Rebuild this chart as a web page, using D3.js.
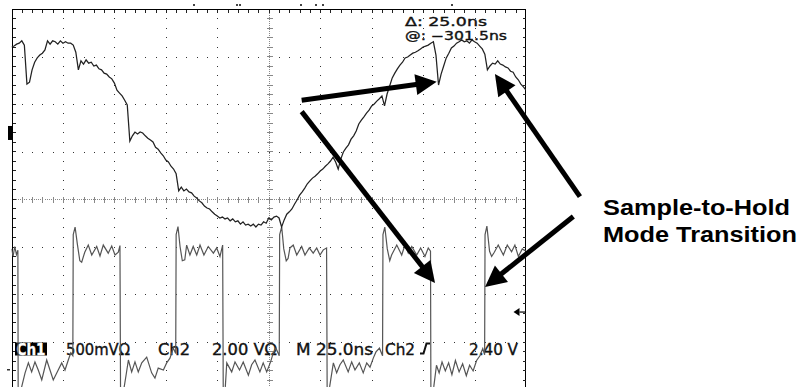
<!doctype html>
<html lang="en">
  <head>
    <meta charset="UTF-8" />
    <title>Sample-to-Hold Mode Transition</title>
    <script src="https://unpkg.com/d3@7.9.0/dist/d3.min.js"></script>
    <style>
      body {
        margin: 0;
        background: #fff;
      }
      svg {
        display: block;
      }
      .readout {
        font-family: 'DejaVu Sans', sans-serif;
        font-size: 15px;
        fill: #111;
        stroke: #111;
        stroke-width: 0.35px;
      }
      .cursor {
        font-family: 'DejaVu Sans', sans-serif;
        font-size: 11.5px;
        fill: #111;
        stroke: #111;
        stroke-width: 0.35px;
      }
      .callout {
        font-family: 'Liberation Sans', Arial, sans-serif;
        font-weight: bold;
        font-size: 22px;
        fill: #000;
      }
    </style>
  </head>
  <body>
    <div id="graph"></div>

    <script>
      // screen: 10 divisions x 25 ns, 8 divisions vertically (values in divisions)
      const SAMPLE_NS = 1.25;

      // Ch1 (held signal), one value every 1.25 ns
      const ch1 = [
        3.20, 3.22, 3.26, 3.28, 3.33, 3.24, 2.42, 2.46, 2.72, 2.88,
        2.97, 3.03, 3.07, 3.14, 3.33, 3.26, 3.33, 3.31, 3.26, 3.33,
        3.28, 3.31, 3.28, 3.28, 3.24, 3.09, 2.72, 2.91, 2.84, 2.93,
        2.86, 2.88, 2.80, 2.82, 2.74, 2.72, 2.65, 2.63, 2.57, 2.53,
        2.44, 2.29, 2.23, 2.17, 2.08, 1.98, 1.22, 1.33, 1.41, 1.37,
        1.41, 1.39, 1.33, 1.28, 1.24, 1.20, 1.09, 1.05, 0.97, 0.91,
        0.82, 0.78, 0.69, 0.63, 0.53, 0.17, 0.25, 0.17, 0.21, 0.15,
        0.13, 0.06, 0.02, -0.04, -0.08, -0.15, -0.19, -0.21, -0.27, -0.32,
        -0.36, -0.40, -0.38, -0.42, -0.40, -0.46, -0.42, -0.48, -0.46, -0.53,
        -0.48, -0.55, -0.53, -0.57, -0.53, -0.59, -0.53, -0.55, -0.48, -0.51,
        -0.40, -0.44, -0.38, -0.36, -0.40, -0.59, -0.44, -0.32, -0.27, -0.21,
        -0.11, -0.02, 0.08, 0.15, 0.23, 0.32, 0.38, 0.44, 0.48, 0.53,
        0.59, 0.63, 0.69, 0.74, 0.80, 0.88, 0.78, 0.63, 0.84, 0.99,
        1.07, 1.14, 1.26, 1.33, 1.43, 1.58, 1.66, 1.73, 1.81, 1.87,
        1.96, 2.00, 2.06, 2.11, 2.17, 1.96, 2.21, 2.38, 2.55, 2.65,
        2.74, 2.82, 2.88, 2.97, 2.99, 3.03, 3.07, 3.09, 3.12, 3.16,
        3.20, 3.22, 3.24, 3.28, 3.31, 3.03, 2.40, 2.63, 2.80, 2.97,
        3.07, 3.18, 3.22, 3.28, 3.31, 3.35, 3.31, 3.33, 3.28, 3.35,
        3.31, 3.28, 3.22, 3.16, 3.05, 2.72, 2.80, 2.86, 2.84, 2.91,
        2.84, 2.82, 2.78, 2.76, 2.69, 2.67, 2.57, 2.51, 2.42, 2.36,
        2.29,
      ];

      // Ch2 (clock), [ns, divisions]
      const ch2 = [
        [0.0, -1.05], [0.8, -1.2], [1.6, -1.0], [2.4, -1.17], [3.1, -1.08],
        [3.25, -4.2], [4.8, -3.98], [6.6, -3.66], [8.2, -3.45], [9.8, -3.64],
        [11.4, -3.43], [13.0, -3.6], [14.7, -3.81], [17.1, -3.39], [18.7, -3.6],
        [20.3, -3.81], [22.7, -3.6], [24.4, -3.45], [26.0, -3.6], [27.6, -3.39],
        [28.8, -3.24], [29.8, -3.3],
        [30.0, -0.75], [30.9, -0.59], [32.0, -0.95], [33.2, -1.3], [34.1, -1.33],
        [35.6, -1.12], [37.3, -0.97], [39.0, -1.18], [41.4, -1.0], [43.0, -1.2],
        [44.6, -0.97], [47.0, -1.14], [48.7, -0.99], [50.3, -1.18], [51.9, -1.12],
        [52.7, -0.98],
        [53.0, -4.2], [54.6, -4.0], [55.7, -3.7], [56.8, -3.39], [58.4, -3.64],
        [60.0, -3.43], [61.6, -3.64], [63.3, -3.45], [65.7, -3.33], [68.1, -3.66],
        [69.7, -3.77], [71.3, -3.56], [73.8, -3.6], [75.4, -3.45], [77.0, -3.35],
        [78.6, -3.14], [79.8, -3.25],
        [80.0, -0.75], [80.9, -0.58], [81.9, -1.0], [83.0, -1.3], [84.2, -1.28],
        [85.1, -0.97], [86.7, -1.18], [88.3, -1.0], [90.0, -1.18], [91.6, -0.97],
        [93.5, -1.18], [95.6, -1.0], [98.1, -1.14], [99.7, -1.03], [101.3, -1.21],
        [102.6, -0.97],
        [102.9, -4.2], [103.9, -3.95], [104.6, -3.45], [107.0, -3.64], [108.6, -3.43],
        [110.8, -3.6], [112.6, -3.43], [115.1, -3.71], [116.7, -3.49], [118.3, -3.39],
        [120.7, -3.64], [122.3, -3.45], [124.0, -3.64], [125.9, -3.43], [127.2, -3.24],
        [128.5, -3.14], [130.1, -3.3],
        [130.3, -0.75], [131.3, -0.59], [132.3, -1.05], [133.5, -1.3], [134.4, -1.25],
        [135.3, -1.03], [136.9, -0.97], [138.6, -1.18], [141.0, -1.0], [142.6, -1.18],
        [144.7, -1.03], [146.6, -1.14], [148.3, -1.03], [149.9, -1.18], [151.5, -1.07],
        [153.1, -1.03],
        [153.4, -4.2], [154.6, -3.95], [156.4, -3.45], [158.0, -3.66], [159.6, -3.49],
        [161.2, -3.39], [163.6, -3.64], [165.3, -3.43], [166.9, -3.6], [169.0, -3.45],
        [170.9, -3.66], [172.6, -3.45], [174.2, -3.54], [175.8, -3.35], [177.1, -3.22],
        [178.8, -3.14], [180.3, -3.3],
        [180.5, -0.75], [181.4, -0.59], [182.6, -1.05], [183.8, -1.3], [184.7, -1.18],
        [187.2, -0.97], [189.6, -1.18], [191.2, -0.97], [192.8, -1.14], [194.5, -1.0],
        [196.9, -1.18], [198.8, -1.03], [200.9, -1.21], [202.5, -1.03], [203.6, -1.1],
        [203.8, -4.2], [205.2, -3.95], [206.5, -3.5], [207.8, -3.66], [209.2, -3.43],
        [210.8, -3.62], [212.4, -3.45], [214.0, -3.7], [215.7, -3.4], [217.5, -3.64],
        [219.2, -3.47], [221.0, -3.72], [222.6, -3.5], [224.3, -3.62], [226.0, -3.4],
        [227.6, -3.3], [229.0, -3.15], [229.9, -3.28],
        [230.1, -0.75], [231.0, -0.57], [232.3, -1.1], [233.3, -1.21], [234.6, -1.12],
        [236.5, -0.97], [239.0, -1.18], [240.9, -0.97], [243.0, -1.11], [244.6, -0.97],
        [246.3, -1.21], [248.2, -1.05], [250.0, -1.1],
      ];

      const ch1Ground = 1.39; // divisions
      const ch2Ground = -3.58;
      const ch2VoltsPerDiv = 2.0;
      const triggerVolts = 2.4;

      const cursorLabels = ['\u0394: 25.0ns', '@: \u2212301.5ns'];
      const statusLabels = ['Ch1', '500mV\u03a9', 'Ch2', '2.00 V\u03a9', 'M 25.0ns', 'Ch2', '2.40 V'];
      const calloutLines = ['Sample-to-Hold', 'Mode Transition'];

      // tails and tips of the callout arrows, [ns, divisions]
      const arrows = [
        { from: [141.0, 2.08], to: [206.6, 2.47] },
        { from: [141.0, 1.84], to: [205.8, -1.77] },
        { from: [276.2, 0.05], to: [234.9, 2.63] },
        { from: [273.0, -0.37], to: [230.1, -1.85] },
      ];

      const W = 802;
      const H = 387;

      const x = d3.scaleLinear().domain([0, 250]).range([11.5, 526]);
      const y = d3.scaleLinear().domain([-4, 4]).range([389, 9]);

      const svg = d3
        .select('#graph')
        .append('svg')
        .attr('width', W)
        .attr('height', H);

      svg.append('rect').attr('width', W).attr('height', H).attr('fill', '#fff');

      svg
        .append('clipPath')
        .attr('id', 'screen')
        .append('rect')
        .attr('x', x(0))
        .attr('y', y(4))
        .attr('width', x(250) - x(0))
        .attr('height', y(-4) - y(4));

      const grid = svg.append('g').attr('shape-rendering', 'crispEdges');
      const px = (v) => Math.round(v);

      // dotted division lines
      const dots = [];
      for (let k = 1; k < 10; k++) {
        if (k === 5) continue;
        for (let j = 1; j < 40; j++) dots.push([px(x(k * 25)), px(y(-4 + j * 0.2))]);
      }
      for (let m = 1; m < 8; m++) {
        if (m === 4) continue;
        for (let j = 1; j < 50; j++) dots.push([px(x(j * 5)), px(y(-4 + m))]);
      }
      grid
        .selectAll('.dot')
        .data(dots)
        .enter()
        .append('rect')
        .attr('class', 'dot')
        .attr('x', (d) => d[0])
        .attr('y', (d) => d[1])
        .attr('width', 1)
        .attr('height', 1)
        .attr('fill', '#333');

      // centre cross
      const cx = px(x(125)) + 0.5;
      const cy = px(y(0)) + 0.5;
      grid
        .append('line')
        .attr('x1', x(0)).attr('x2', x(250))
        .attr('y1', cy).attr('y2', cy)
        .attr('stroke', '#888')
        .attr('stroke-dasharray', '1,1');
      grid
        .append('line')
        .attr('x1', cx).attr('x2', cx)
        .attr('y1', y(4)).attr('y2', y(-4))
        .attr('stroke', '#888')
        .attr('stroke-dasharray', '1,1');
      grid
        .selectAll('.hx')
        .data(d3.range(5, 250, 5))
        .enter()
        .append('line')
        .attr('x1', (d) => px(x(d)) + 0.5)
        .attr('x2', (d) => px(x(d)) + 0.5)
        .attr('y1', cy - 3)
        .attr('y2', cy + 3)
        .attr('stroke', '#888');
      grid
        .selectAll('.hy')
        .data(d3.range(-3.8, 4, 0.2))
        .enter()
        .append('line')
        .attr('y1', (d) => px(y(d)) + 0.5)
        .attr('y2', (d) => px(y(d)) + 0.5)
        .attr('x1', cx - 3)
        .attr('x2', cx + 3)
        .attr('stroke', '#888');

      // frame and edge ticks
      const frameL = px(x(0)) + 0.5;
      const frameR = px(x(250)) - 0.5;
      const frameT = px(y(4)) + 0.5;
      grid
        .append('path')
        .attr('d', `M${frameL},${H + 5}V${frameT}H${frameR}V${H + 5}`)
        .attr('fill', 'none')
        .attr('stroke', '#000');
      grid
        .selectAll('.tt')
        .data(d3.range(5, 250, 5))
        .enter()
        .append('line')
        .attr('x1', (d) => px(x(d)) + 0.5)
        .attr('x2', (d) => px(x(d)) + 0.5)
        .attr('y1', frameT)
        .attr('y2', frameT + 3)
        .attr('stroke', '#222');
      const sideTicks = d3.range(-3.8, 4, 0.2);
      grid
        .selectAll('.lt')
        .data(sideTicks)
        .enter()
        .append('line')
        .attr('y1', (d) => px(y(d)) + 0.5)
        .attr('y2', (d) => px(y(d)) + 0.5)
        .attr('x1', frameL)
        .attr('x2', frameL + 3)
        .attr('stroke', '#222');
      grid
        .selectAll('.rt')
        .data(sideTicks)
        .enter()
        .append('line')
        .attr('y1', (d) => px(y(d)) + 0.5)
        .attr('y2', (d) => px(y(d)) + 0.5)
        .attr('x1', frameR)
        .attr('x2', frameR - 3)
        .attr('stroke', '#222');

      // clipped fragments of the header line above the screen
      [193, 236, 239, 300, 315, 322, 451].forEach((hx) =>
        svg.append('rect').attr('x', hx).attr('y', 4).attr('width', 2).attr('height', 2).attr('fill', '#444'),
      );

      // readouts (drawn below the traces)
      const status = svg.append('g').attr('class', 'readout');
      status.append('rect').attr('x', 15).attr('y', 342.5).attr('width', 32).attr('height', 13).attr('fill', '#000').attr('stroke', 'none');
      const statusX = [16.5, 66, 158, 212, 296, 385, 469];
      const statusLen = [29, 64, 32, 65, 77, 30, 49];
      statusLabels.forEach((t, i) => {
        status
          .append('text')
          .attr('x', statusX[i])
          .attr('y', 354.5)
          .attr('textLength', statusLen[i])
          .attr('lengthAdjust', 'spacingAndGlyphs')
          .attr('fill', i === 0 ? '#fff' : '#111')
          .attr('stroke', i === 0 ? '#fff' : '#111')
          .attr('font-weight', i === 0 ? 'bold' : null)
          .text(t);
      });
      // rising slope symbol
      status
        .append('path')
        .attr('d', 'M420,353.5H423.5L426.5,343.5H430')
        .attr('fill', 'none')
        .attr('stroke', '#111')
        .attr('stroke-width', 2);

      // cursor readout
      [26, 39.5].forEach((by, i) => {
        svg
          .append('text')
          .attr('class', 'cursor')
          .attr('x', 405)
          .attr('y', by)
          .attr('textLength', i === 0 ? 82 : 102)
          .attr('lengthAdjust', 'spacingAndGlyphs')
          .text(cursorLabels[i]);
      });

      // traces
      const traces = svg.append('g').attr('clip-path', 'url(#screen)');
      const line = d3
        .line()
        .x((d) => x(d[0]))
        .y((d) => y(d[1]));

      traces
        .append('path')
        .datum(ch2)
        .attr('d', line)
        .attr('fill', 'none')
        .attr('stroke', '#555')
        .attr('stroke-width', 1.2);

      traces
        .append('path')
        .datum(ch1.map((v, i) => [i * SAMPLE_NS, v]))
        .attr('d', line)
        .attr('fill', 'none')
        .attr('stroke', '#222')
        .attr('stroke-width', 1.25);

      // channel ground markers and trigger level
      svg.append('rect').attr('x', 8).attr('y', y(ch1Ground) - 7).attr('width', 4).attr('height', 14).attr('fill', '#000');
      svg.append('rect').attr('x', 7).attr('y', px(y(ch2Ground))).attr('width', 3).attr('height', 1.5).attr('fill', '#333');
      const trigY = y(ch2Ground + triggerVolts / ch2VoltsPerDiv);
      svg
        .append('path')
        .attr('d', `M${frameR - 12},${trigY}L${frameR - 6},${trigY - 4}V${trigY + 4}Z`)
        .attr('fill', '#000');
      svg
        .append('line')
        .attr('x1', frameR - 6).attr('x2', frameR)
        .attr('y1', trigY).attr('y2', trigY)
        .attr('stroke', '#000')
        .attr('stroke-width', 1.2);

      // callout arrows
      const headLen = 21;
      const headHalf = 10.5;
      const ann = svg.append('g');
      arrows.forEach((a) => {
        const x0 = x(a.from[0]);
        const y0 = y(a.from[1]);
        const x1 = x(a.to[0]);
        const y1 = y(a.to[1]);
        const len = Math.hypot(x1 - x0, y1 - y0);
        const ux = (x1 - x0) / len;
        const uy = (y1 - y0) / len;
        const bx = x1 - ux * headLen;
        const by = y1 - uy * headLen;
        ann
          .append('line')
          .attr('x1', x0).attr('y1', y0)
          .attr('x2', bx + ux * 2).attr('y2', by + uy * 2)
          .attr('stroke', '#000')
          .attr('stroke-width', 5);
        ann
          .append('path')
          .attr(
            'd',
            `M${x1},${y1}L${bx - uy * headHalf},${by + ux * headHalf}L${bx + uy * headHalf},${by - ux * headHalf}Z`,
          )
          .attr('fill', '#000');
      });

      calloutLines.forEach((t, i) => {
        svg
          .append('text')
          .attr('class', 'callout')
          .attr('x', 603)
          .attr('y', 215 + i * 26.5)
          .attr('textLength', i === 0 ? 187 : 194)
          .attr('lengthAdjust', 'spacingAndGlyphs')
          .text(t);
      });
    </script>
  </body>
</html>
